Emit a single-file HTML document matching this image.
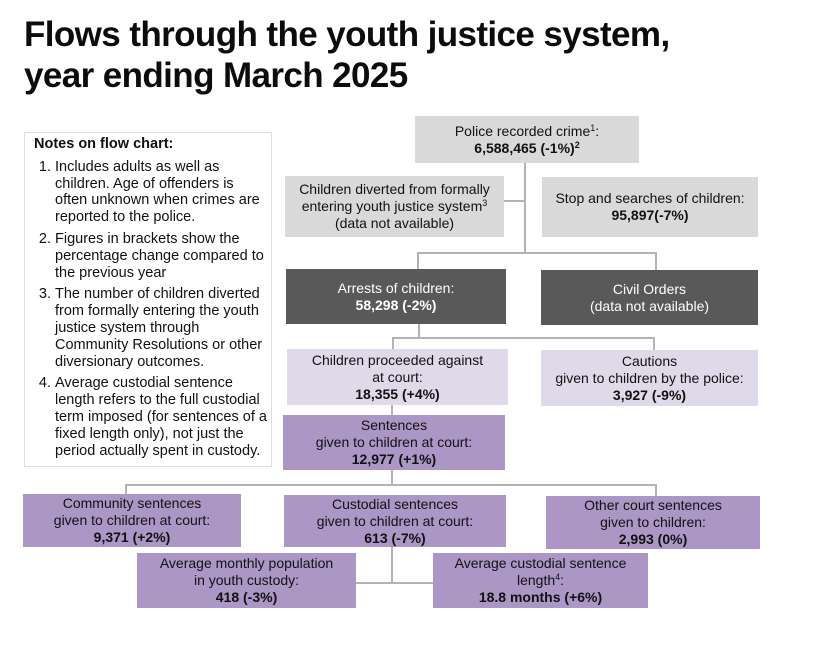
<!DOCTYPE html>
<html><head><meta charset="utf-8"><style>
body{margin:0;width:830px;height:648px;background:#fff;position:relative;font-family:"Liberation Sans",Arial,sans-serif;color:#111;overflow:hidden}
h1{position:absolute;left:24px;top:14px;margin:0;font-size:35px;line-height:41px;font-weight:bold;letter-spacing:-0.6px;color:#0b0c0c;white-space:nowrap}
.b{position:absolute;display:flex;justify-content:center;align-items:center;text-align:center;font-size:14px;line-height:17px;box-sizing:border-box}
.b>span{display:block}
.g{background:#d9d9d9}.d{background:#595959;color:#fff}.l{background:#e0d9ea}.p{background:#ac96c6}
b{font-weight:bold}
sup{font-size:9px;line-height:0;vertical-align:5px}
.notes{position:absolute;left:24px;top:132px;width:248px;height:335px;border:1px solid #ddd;box-sizing:border-box;font-size:14.5px;line-height:16.8px;padding:3px 4px 0 9px}
.notes h4{margin:0 0 6px;font-size:14.5px}
.notes ol{margin:0;padding-left:21px}
.notes li{margin-bottom:5px}
.ln{position:absolute;background:#b3b3b3}
</style></head><body>
<h1>Flows through the youth justice system,<br>year ending March 2025</h1>

<div class="notes"><h4>Notes on flow chart:</h4><ol>
<li>Includes adults as well as children. Age of offenders is often unknown when crimes are reported to the police.</li>
<li>Figures in brackets show the percentage change compared to the previous year</li>
<li>The number of children diverted from formally entering the youth justice system through Community Resolutions or other diversionary outcomes.</li>
<li>Average custodial sentence length refers to the full custodial term imposed (for sentences of a fixed length only), not just the period actually spent in custody.</li>
</ol></div>

<div class="ln" style="left:524px;top:163px;width:2px;height:90px"></div>
<div class="ln" style="left:504px;top:200px;width:21px;height:2px"></div>
<div class="ln" style="left:417px;top:252px;width:240px;height:2px"></div>
<div class="ln" style="left:417px;top:252px;width:2px;height:18px"></div>
<div class="ln" style="left:655px;top:252px;width:2px;height:18px"></div>
<div class="ln" style="left:418px;top:324px;width:2px;height:15px"></div>
<div class="ln" style="left:392px;top:337px;width:263px;height:2px"></div>
<div class="ln" style="left:392px;top:337px;width:2px;height:13px"></div>
<div class="ln" style="left:653px;top:337px;width:2px;height:14px"></div>
<div class="ln" style="left:391px;top:404px;width:2px;height:12px"></div>
<div class="ln" style="left:391px;top:469px;width:2px;height:17px"></div>
<div class="ln" style="left:125px;top:484px;width:532px;height:2px"></div>
<div class="ln" style="left:125px;top:484px;width:2px;height:11px"></div>
<div class="ln" style="left:655px;top:484px;width:2px;height:12px"></div>
<div class="ln" style="left:391px;top:546px;width:2px;height:37px"></div>
<div class="ln" style="left:356px;top:582px;width:78px;height:2px"></div>

<div class="b g" style="left:415px;top:116px;width:224px;height:47px"><span>Police recorded crime<sup>1</sup>:<br><b>6,588,465 (-1%)<sup>2</sup></b></span></div>
<div class="b g" style="left:285px;top:176px;width:219px;height:61px"><span>Children diverted from formally<br>entering youth justice system<sup>3</sup><br>(data not available)</span></div>
<div class="b g" style="left:542px;top:177px;width:216px;height:60px"><span>Stop and searches of children:<br><b>95,897(-7%)</b></span></div>
<div class="b d" style="left:286px;top:269px;width:220px;height:55px"><span>Arrests of children:<br><b>58,298 (-2%)</b></span></div>
<div class="b d" style="left:541px;top:270px;width:217px;height:55px"><span>Civil Orders<br>(data not available)</span></div>
<div class="b l" style="left:287px;top:349px;width:221px;height:56px"><span>Children proceeded against<br>at court:<br><b>18,355 (+4%)</b></span></div>
<div class="b l" style="left:541px;top:350px;width:217px;height:56px"><span>Cautions<br>given to children by the police:<br><b>3,927 (-9%)</b></span></div>
<div class="b p" style="left:283px;top:415px;width:222px;height:55px"><span>Sentences<br>given to children at court:<br><b>12,977 (+1%)</b></span></div>
<div class="b p" style="left:23px;top:494px;width:218px;height:53px"><span>Community sentences<br>given to children at court:<br><b>9,371 (+2%)</b></span></div>
<div class="b p" style="left:284px;top:495px;width:222px;height:52px"><span>Custodial sentences<br>given to children at court:<br><b>613 (-7%)</b></span></div>
<div class="b p" style="left:546px;top:496px;width:214px;height:53px"><span>Other court sentences<br>given to children:<br><b>2,993 (0%)</b></span></div>
<div class="b p" style="left:137px;top:553px;width:219px;height:55px"><span>Average monthly population<br>in youth custody:<br><b>418 (-3%)</b></span></div>
<div class="b p" style="left:433px;top:553px;width:215px;height:55px"><span>Average custodial sentence<br>length<sup>4</sup>:<br><b>18.8 months (+6%)</b></span></div>
</body></html>
